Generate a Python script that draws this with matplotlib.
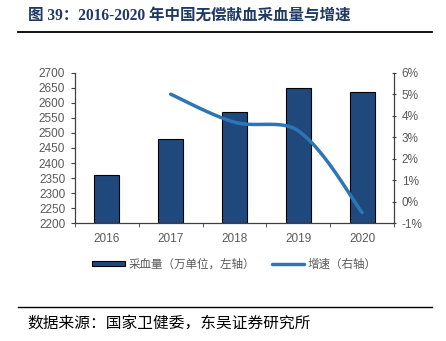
import numpy as np
import matplotlib
matplotlib.use('Agg')
import matplotlib.pyplot as plt
from matplotlib.lines import Line2D
from matplotlib.patches import Patch

plt.rcParams['font.family'] = ['Liberation Sans', 'Noto Sans CJK SC', 'DejaVu Sans']

years = ['2016', '2017', '2018', '2019', '2020']
volume = [2360, 2480, 2570, 2650, 2635]          # 万单位
growth_years = [1, 2, 3, 4]                      # index into years
growth = [5.0, 3.7, 3.3, -0.5]                   # %

left_ticks = list(range(2200, 2701, 50))
right_ticks = list(range(-1, 7))

title = '图 39：2016-2020 年中国无偿献血采血量与增速'
source = '数据来源：国家卫健委，东吴证券研究所'

bar_color = '#1F497D'
line_color = '#2E75B6'
text_grey = '#595959'


def smooth(xs, ys, sx=63.8, sy=21.5, n=40):
    # smoothed line: cubic Bezier segments, tangents weighted by on-screen segment lengths
    pts = np.column_stack([xs, ys]).astype(float)
    ext = np.vstack([pts[0], pts, pts[-1]])
    scale = np.array([sx, sy])

    def dist(a, b):
        return np.hypot(*((b - a) * scale))

    out = []
    t = np.linspace(0, 1, n)[:, None]
    for i in range(len(pts) - 1):
        p0, p1, p2, p3 = ext[i], ext[i + 1], ext[i + 2], ext[i + 3]
        d01, d12, d23 = dist(p0, p1), dist(p1, p2), dist(p2, p3)
        f1 = 2 * d12 / (d01 + d12) / 6.0 if d01 > 0 else 1 / 6.0
        f2 = 2 * d12 / (d12 + d23) / 6.0 if d23 > 0 else 1 / 6.0
        c1 = p1 + (p2 - p0) * f1
        c2 = p2 - (p3 - p1) * f2
        seg = ((1 - t) ** 3) * p1 + 3 * ((1 - t) ** 2) * t * c1 + 3 * (1 - t) * t ** 2 * c2 + t ** 3 * p2
        out.append(seg if i == 0 else seg[1:])
    out = np.vstack(out)
    return out[:, 0], out[:, 1]


fig = plt.figure(figsize=(4.46, 3.41), dpi=100)
ax = fig.add_axes([75 / 446, 1 - 223.3 / 341, (394 - 75) / 446, (223.3 - 72.7) / 341])

x = np.arange(len(years))
ax.bar(x, [v - 2200 for v in volume], bottom=2200, width=0.39, color=bar_color,
       edgecolor='black', linewidth=0.8, zorder=2)
ax.set_xlim(-0.5, len(years) - 0.5)
ax.set_ylim(2200, 2700)
ax.set_yticks(left_ticks)
ax.set_xticks(x)
ax.set_xticklabels(years)
ax.set_xticks(np.arange(-0.5, len(years)), minor=True)
ax.tick_params(axis='x', which='major', length=0, colors=text_grey, labelsize=8.5, pad=7)
ax.tick_params(axis='x', which='minor', length=3, direction='out', color='#404040')
ax.tick_params(axis='y', length=3, direction='out', colors=text_grey, labelsize=8.5, pad=4)
ax.tick_params(axis='y', color='#404040')
for s in ['top', 'right']:
    ax.spines[s].set_visible(False)
for s in ['left', 'bottom']:
    ax.spines[s].set_color('#404040')
    ax.spines[s].set_linewidth(0.9)

ax2 = ax.twinx()
lx, ly = smooth(growth_years, growth)
ax2.plot(lx, ly, color=line_color, linewidth=2.5, solid_capstyle='round', zorder=3)
ax2.set_ylim(-1, 6)
ax2.set_yticks(right_ticks)
ax2.set_yticklabels(['%d%%' % v for v in right_ticks])
ax2.tick_params(axis='y', length=3, direction='inout', colors=text_grey, labelsize=8.5, pad=4)
ax2.tick_params(axis='y', color='#404040')
for s in ['top', 'left', 'bottom']:
    ax2.spines[s].set_visible(False)
ax2.spines['right'].set_color('#404040')
ax2.spines['right'].set_linewidth(0.9)

handles = [Patch(facecolor=bar_color, edgecolor='black', linewidth=0.8),
           Line2D([0], [0], color=line_color, linewidth=2.5, solid_capstyle='round')]
labels = ['采血量（万单位，左轴）', '增速（右轴）']
fig.legend(handles, labels, loc='center', bbox_to_anchor=(0.526, 1 - 264 / 341), ncol=2,
           frameon=False, handlelength=2.8, handleheight=0.35, handletextpad=0.3,
           columnspacing=1.5, prop={'family': ['Noto Sans CJK SC'], 'size': 8.3},
           labelcolor=text_grey)

fig.text(28 / 446, 1 - 16 / 341, title, fontsize=11.2, fontweight='bold', color='#1F3864',
         va='center', ha='left', family=['Liberation Serif', 'Noto Sans CJK SC'])
fig.add_artist(Line2D([18 / 446, 432 / 446], [1 - 31.5 / 341] * 2, color='black', linewidth=1.3))
fig.add_artist(Line2D([18 / 446, 432 / 446], [1 - 307 / 341] * 2, color='black', linewidth=1.0))
fig.text(27 / 446, 1 - 323 / 341, source, fontsize=11.3, color='black', va='center', ha='left',
         family=['Noto Sans CJK SC'])

fig.savefig('out.png', dpi=100)
